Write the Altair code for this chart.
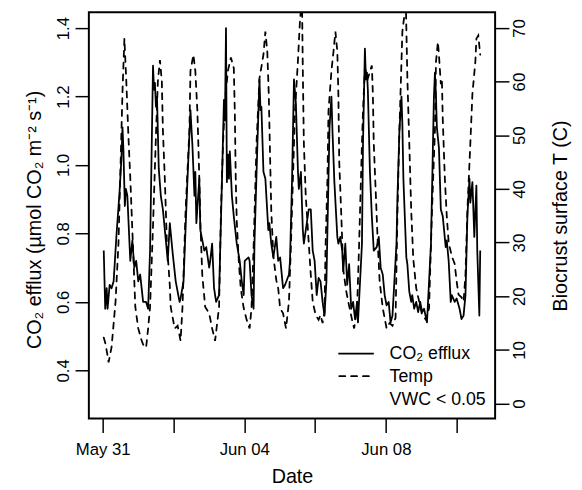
import altair as alt
import pandas as pd

# CO2 efflux (umol CO2 m-2 s-1), time in hours since May 31 00:00
co2_hours = [0.7, 1.7, 2.7, 3.3, 4.7, 6.0, 7.4, 9.4, 11.4, 12.7, 13.4, 14.0, 15.0, 15.7, 16.7, 18.7,
             20.1, 21.4, 22.7, 24.1, 25.4, 27.4, 29.4, 30.8, 32.1, 33.4, 34.1, 34.8, 35.4, 36.1, 36.8,
             38.0, 39.4, 40.8, 42.8, 44.1, 45.5, 47.5, 49.5, 52.1, 52.8, 54.8, 57.5, 59.5, 60.8, 62.2,
             62.8, 63.5, 65.5, 66.2, 68.9, 70.2, 72.2, 72.9, 74.2, 75.5, 76.9, 78.9, 80.9, 82.2, 82.9,
             83.6, 84.2, 85.0, 85.6, 86.2, 87.6, 88.9, 90.9, 92.9, 94.3, 95.6, 96.3, 98.9, 99.6, 100.9,
             102.3, 102.9, 104.9, 106.3, 107.0, 107.6, 109.0, 110.3, 112.3, 113.0, 114.3, 115.7, 117.7,
             119.0, 120.3, 122.3, 123.7, 126.3, 127.0, 128.4, 129.7, 131.0, 132.4, 133.0, 134.4, 135.7,
             136.4, 137.7, 139.7, 141.1, 142.4, 143.7, 145.1, 146.4, 147.7, 149.1, 150.4, 151.7, 153.1,
             153.8, 155.1, 155.8, 157.1, 159.1, 159.8, 161.1, 162.4, 163.1, 164.5, 165.8, 167.1, 168.5,
             169.8, 171.1, 172.5, 173.1, 175.8, 176.5, 177.8, 178.5, 179.2, 179.8, 181.2, 182.5, 183.8,
             185.8, 187.2, 188.5, 189.9, 191.2, 192.5, 193.9, 195.2, 196.5, 199.2, 199.9, 201.2, 202.6,
             203.2, 203.9, 205.9, 206.6, 207.9, 209.2, 209.9, 211.2, 212.6, 213.9, 215.3, 216.6, 217.9,
             219.9, 222.6, 224.6, 225.3, 226.0, 226.6, 228.0, 229.3, 230.6, 232.6, 233.3, 234.6, 236.0,
             236.7, 238.7, 240.0, 242.0, 243.3, 244.7, 246.0, 247.3, 248.7, 249.3, 250.7, 252.0, 253.4,
             254.0, 255.4, 256.0]
co2_values = [0.75, 0.58, 0.64, 0.58, 0.65, 0.64, 0.66, 0.80, 0.92, 1.02, 1.11, 1.05, 0.88, 0.93, 0.91, 0.72,
              0.78, 0.70, 0.72, 0.66, 0.68, 0.60, 0.60, 0.58, 0.75, 1.10, 1.29, 1.22, 1.24, 1.17, 1.20,
              0.99, 0.91, 0.87, 0.78, 0.72, 0.83, 0.74, 0.66, 0.60, 0.61, 0.66, 0.96, 1.16, 1.06, 0.91,
              0.98, 0.83, 0.96, 0.81, 0.75, 0.76, 0.70, 0.72, 0.77, 0.64, 0.60, 0.62, 0.96, 1.19, 1.13,
              1.40, 0.95, 1.03, 0.96, 1.04, 0.91, 0.85, 0.77, 0.72, 0.66, 0.62, 0.72, 0.73, 0.72, 0.62,
              0.58, 0.77, 1.06, 1.25, 1.16, 1.17, 0.98, 0.96, 0.81, 0.83, 0.77, 0.73, 0.79,
              0.72, 0.73, 0.64, 0.65, 0.68, 0.72, 0.96, 1.25, 1.18, 0.98, 0.93, 0.98, 0.81,
              0.77, 0.81, 0.87, 0.87, 0.75, 0.72, 0.62, 0.67, 0.66, 0.60, 0.56, 0.66, 0.96,
              1.11, 1.20, 1.10, 0.95, 0.79, 0.77, 0.79, 0.75, 0.69, 0.77, 0.65, 0.71, 0.58,
              0.60, 0.55, 0.60, 0.54, 0.77, 1.06, 1.34, 1.25, 1.27, 1.22, 0.98, 0.85, 0.75,
              0.76, 0.79, 0.70, 0.68, 0.62, 0.59, 0.60, 0.54, 0.56, 0.77, 0.91, 1.10, 1.20,
              1.12, 0.96, 0.73, 0.71, 0.63, 0.60, 0.62, 0.58, 0.60, 0.57, 0.60, 0.57, 0.58,
              0.54, 0.77, 1.20, 1.27, 1.20, 1.11, 1.05, 0.87, 0.85, 0.76, 0.78, 0.72, 0.60,
              0.62, 0.60, 0.61, 0.58, 0.55, 0.56, 0.62, 0.85, 0.96, 0.89, 0.95, 0.79, 0.94,
              0.75, 0.56, 0.75]

# Biocrust surface temperature (C)
temp_hours = [0.7, 2.0, 4.0, 6.0, 8.7, 10.7, 12.0, 13.4, 14.7, 16.0, 17.4, 18.7, 20.7, 22.1, 24.1, 26.1,
              27.4, 29.4, 30.8, 32.1, 34.1, 36.1, 37.4, 38.8, 40.1, 40.8, 42.1, 43.5, 45.5, 46.1, 48.8,
              50.8, 52.8, 54.1, 56.2, 58.8, 59.5, 61.5, 62.8, 64.2, 65.5, 66.2, 67.5, 69.5, 72.2, 74.2,
              76.2, 78.9, 80.2, 81.6, 82.9, 84.9, 86.9, 88.9, 89.6, 90.2, 90.9, 92.3, 93.6, 95.6, 97.6,
              99.6, 100.9, 102.3, 104.3, 106.3, 109.0, 110.3, 111.6, 112.6, 113.3, 114.3, 115.7, 117.7,
              119.0, 120.3, 122.3, 124.3, 126.3, 127.7, 129.0, 130.4, 132.4, 133.7, 135.1, 135.7, 136.4,
              137.7, 139.7, 141.1, 142.4, 144.4, 146.4, 147.7, 149.1, 150.4, 151.1, 152.4, 153.1, 155.1,
              156.5, 157.8, 159.1, 159.8, 160.4, 161.8, 163.1, 165.1, 166.5, 169.1, 170.5, 172.5, 173.8,
              175.8, 176.5, 177.8, 179.8, 182.5, 183.2, 183.8, 185.2, 186.5, 187.8, 189.9, 192.5, 194.5,
              196.5, 198.6, 199.9, 201.2, 202.6, 203.2, 204.6, 205.6, 206.6, 207.9, 209.2, 210.6, 212.6,
              214.6, 216.6, 219.3, 221.3, 223.3, 225.3, 226.0, 227.3, 228.0, 229.3, 230.0, 230.6, 232.0,
              233.3, 234.6, 236.7, 238.7, 240.0, 241.3, 243.3, 244.7, 246.0, 247.3, 249.3, 250.7, 252.7,
              253.4, 254.7, 256.0]
temp_values = [12.3, 11.0, 7.7, 10.5, 19.0, 30.0, 43.5, 58.0, 68.0, 60.0, 50.0, 42.0, 28.0, 18.0, 14.0, 12.0,
               11.0, 10.4, 14.0, 18.0, 33.0, 50.0, 60.0, 64.0, 60.0, 51.0, 42.0, 30.0, 22.0, 18.0, 14.0,
               14.5, 11.7, 18.0, 36.0, 51.0, 62.0, 65.0, 62.0, 54.5, 42.0, 34.0, 24.0, 18.0, 16.8, 14.0,
               11.7, 18.0, 36.0, 48.5, 56.4, 62.0, 64.5, 62.5, 54.0, 42.0, 34.0, 26.4, 21.5, 17.8, 15.6,
               14.0, 17.8, 29.0, 48.5, 60.6, 65.0, 69.3, 65.6, 57.7, 48.5, 36.0, 27.5, 23.0,
               21.5, 17.8, 16.8, 14.0, 19.0, 30.0, 42.0, 54.5, 64.0, 71.0, 76.0, 62.0, 48.5,
               38.6, 30.0, 24.0, 19.0, 16.5, 15.6, 16.5, 15.0, 17.0, 29.0, 42.0, 54.5, 62.0,
               65.6, 69.3, 65.6, 57.7, 45.0, 35.0, 25.0, 21.0, 19.0, 15.6, 14.0, 17.8, 29.0,
               48.5, 54.5, 62.5, 60.6, 63.0, 57.7, 48.5, 39.0, 30.0, 22.8, 17.8, 14.0, 15.0,
               14.5, 16.0, 36.0, 51.0, 63.7, 69.3, 72.4, 74.0, 60.6, 48.5, 36.0, 27.0, 21.5,
               19.0, 16.5, 15.6, 17.8, 36.0, 51.0, 63.7, 67.4, 65.0, 59.5, 60.5, 53.0, 42.0,
               35.0, 30.0, 27.5, 26.0, 22.8, 20.3, 19.8, 19.0, 24.0, 36.0, 48.5, 57.7, 63.7,
               68.0, 68.6, 65.0]

tick_hours = [0, 48, 96, 144, 192, 240]
tick_labels = ["May 31", "", "Jun 04", "", "Jun 08", ""]
co2_ticks = [0.4, 0.6, 0.8, 1.0, 1.2, 1.4]
temp_ticks = [0, 10, 20, 30, 40, 50, 60, 70]
legend_labels = ["CO\u2082 efflux", "Temp", "VWC < 0.05"]

co2_df = pd.DataFrame({"hours": co2_hours, "co2": co2_values})
temp_df = pd.DataFrame({"hours": temp_hours, "temp": temp_values})

label_expr = "".join(f"datum.value == {h} ? '{l}' : " for h, l in zip(tick_hours, tick_labels)) + "''"

FONT = "Liberation Sans"
W = 412
H = 412

x_enc = alt.X(
    "hours:Q",
    scale=alt.Scale(domain=[-9.4, 266.1], nice=False, zero=False),
    axis=alt.Axis(
        values=tick_hours, labelExpr=label_expr, title="Date",
        tickSize=14, labelPadding=22, labelBaseline="alphabetic",
        titleY=65, titleBaseline="alphabetic", labelFlush=False, labelOverlap=False,
    ),
)

co2_line = alt.Chart(co2_df).mark_line(
    color="black", strokeWidth=1.8, clip=True, strokeJoin="round"
).encode(
    x=x_enc,
    y=alt.Y(
        "co2:Q",
        scale=alt.Scale(domain=[0.259, 1.446], nice=False, zero=False),
        axis=alt.Axis(
            orient="left", values=co2_ticks, format=".1f",
            title="CO\u2082 efflux (\u00b5mol CO\u2082 m\u207b\u00b2 s\u207b\u00b9)",
            tickSize=14, labelAngle=270, labelAlign="center", labelBaseline="alphabetic",
            labelPadding=7, titleAngle=270, titleX=-55, titleY=H / 2 + 4,
            titleAlign="center", titleBaseline="middle",
        ),
    ),
)

temp_line = alt.Chart(temp_df).mark_line(
    color="black", strokeWidth=1.8, strokeDash=[6, 6], strokeCap="round", clip=True
).encode(
    x=alt.X("hours:Q"),
    y=alt.Y(
        "temp:Q",
        scale=alt.Scale(domain=[-2.8, 72.9], nice=False, zero=False),
        axis=alt.Axis(
            orient="right", values=temp_ticks, title="Biocrust surface T (C)",
            tickSize=14, labelAngle=270, labelAlign="center", labelBaseline="alphabetic",
            labelPadding=16, titleAngle=270, titleX=66, titleY=H / 2,
            titleAlign="center", titleBaseline="middle",
        ),
    ),
)

one = pd.DataFrame({"k": [0]})
leg_solid = alt.Chart(one).mark_rule(color="black", strokeWidth=1.8).encode(
    x=alt.value(253), x2=alt.value(289), y=alt.value(346)
)
leg_dash = alt.Chart(one).mark_rule(
    color="black", strokeWidth=1.8, strokeDash=[6, 6], strokeCap="round"
).encode(x=alt.value(254), x2=alt.value(289), y=alt.value(369))
leg_text = [
    alt.Chart(one).mark_text(
        align="left", baseline="alphabetic", font=FONT, fontSize=18, color="black"
    ).encode(x=alt.value(305), y=alt.value(yy), text=alt.value(t))
    for t, yy in zip(legend_labels, [352, 375, 398])
]

chart = alt.layer(co2_line, temp_line, leg_solid, leg_dash, *leg_text).resolve_scale(
    y="independent"
).properties(
    width=W, height=H,
    autosize=alt.AutoSizeParams(type="none"),
    padding={"left": 82, "top": 1, "right": 80, "bottom": 69},
    background="white",
).configure_view(
    stroke="black", strokeWidth=2
).configure_axis(
    domain=False, grid=False, tickColor="black", tickWidth=1.5,
    labelFont=FONT, labelFontSize=17, labelColor="black",
    titleFont=FONT, titleFontSize=20, titleFontWeight="normal", titleColor="black",
)

chart.save("out.html", embed_options={"renderer": "svg", "actions": False})
